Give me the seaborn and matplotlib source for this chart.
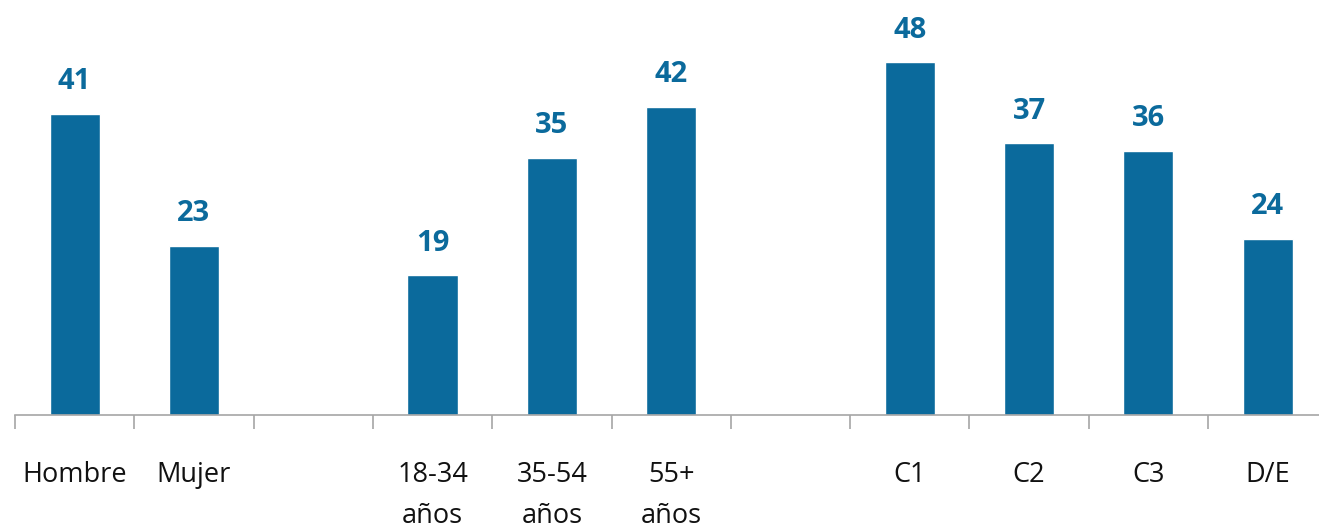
import matplotlib.pyplot as plt
import numpy as np
import pandas as pd
import seaborn as sbn

categories = ['Hombre', 'Mujer', ' ', '18-34\naños', '35-54\naños', '55+\naños', '  ',
              'C1', 'C2', 'C3', 'D/E']
values = [41, 23, np.nan, 19, 35, 42, np.nan, 48, 37, 36, 24]
labels = ['41', '23', '', '19', '35', '42', '', '48', '37', '36', '24']

df = pd.DataFrame({'cat': categories, 'val': values})

sbn.set_style('white')
plt.rcParams['font.family'] = ['Open Sans', 'DejaVu Sans']

blue = '#0b6a9c'
fig = plt.figure(figsize=(13.19, 5.29), dpi=100)
# axes runs slightly past the right edge, as in the reference
ax = fig.add_axes([15 / 1319, (529 - 415) / 529, 11 * 119.3 / 1319, 415 / 529])
sbn.barplot(data=df, x='cat', y='val', order=categories, color=blue,
            width=0.42, saturation=1, ax=ax)

for i, (v, t) in enumerate(zip(values, labels)):
    if t:
        ax.text(i, v + 2.4, t, ha='center', va='bottom', color=blue,
                fontsize=21, fontweight='bold')

ax.set_xlim(-0.5, len(categories) - 0.5)
ax.set_ylim(0, 56.5)
ax.set_xlabel('')
ax.set_ylabel('')
ax.set_yticks([])
for s in ['top', 'right', 'left']:
    ax.spines[s].set_visible(False)
ax.spines['bottom'].set_color('#a6a6a6')
ax.spines['bottom'].set_linewidth(1.2)

ax.set_xticks(np.arange(len(categories)))
ax.set_xticklabels(categories, fontsize=19.5, color='#111111', linespacing=1.65)
ax.tick_params(axis='x', which='major', length=0, pad=33)
ax.set_xticks(np.arange(len(categories) + 1) - 0.5, minor=True)
ax.tick_params(axis='x', which='minor', length=10, width=1.2, color='#a6a6a6',
               bottom=True)
for lbl in ax.get_xticklabels():
    lbl.set_verticalalignment('top')

fig.savefig('out.png', dpi=100)
